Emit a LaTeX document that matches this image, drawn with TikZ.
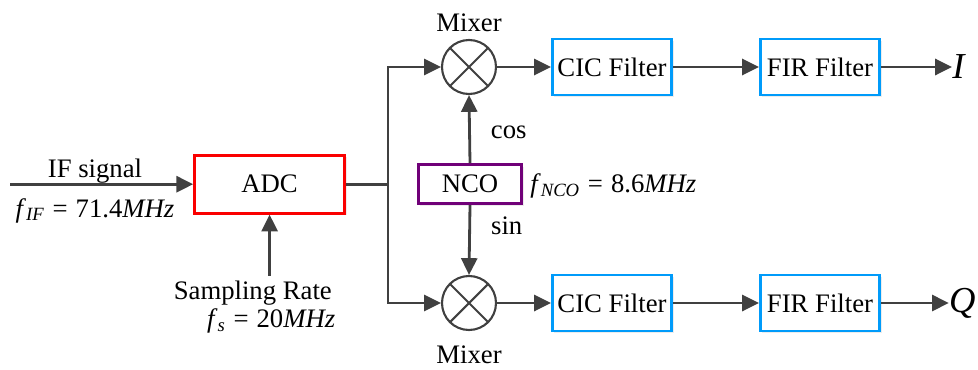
\documentclass[tikz,border=0pt]{standalone}
\usepackage{fontspec}
\setmainfont{Liberation Serif}
\usetikzlibrary{positioning,arrows.meta,shadows}

\definecolor{adcred}{RGB}{250,0,0}
\definecolor{ncopurple}{RGB}{112,0,120}
\definecolor{filtblue}{RGB}{0,155,250}
\definecolor{wiregray}{RGB}{64,64,64}

% italic formula in the text font
\newcommand{\fq}[3]{\textit{#1}\textsubscript{\textit{#2}}\hspace{0.3em}=\hspace{0.3em}#3}

\begin{document}
\begin{tikzpicture}[>={Triangle[length=0.42cm,width=0.4cm]},
  font=\fontsize{19}{22}\selectfont,
  wire/.style={draw=wiregray,line width=2pt},
  blk/.style={draw,line width=2pt,fill=white,inner sep=0pt,
    drop shadow={shadow xshift=0.05cm,shadow yshift=-0.05cm,opacity=0.15}},
  filt/.style={blk,draw=filtblue,minimum width=2.98cm,minimum height=1.4cm},
  mixer/.style={circle,draw=wiregray,line width=1.5pt,minimum size=1.35cm,inner sep=0pt,
    path picture={\draw[wiregray,line width=1.5pt]
      (path picture bounding box.north west) -- (path picture bounding box.south east)
      (path picture bounding box.north east) -- (path picture bounding box.south west);}},
  lbl/.style={inner sep=0pt},
  outlbl/.style={lbl,anchor=west,font=\fontsize{26}{28}\selectfont\itshape}]
  \useasboundingbox (0,0) rectangle (24.45,9.225);
  % ADC
  \node[blk,draw=adcred,minimum width=3.75cm,minimum height=1.45cm] (adc) at (6.74,4.62) {ADC};
  \coordinate (ifin) at (0.25,4.62);
  \coordinate (fsin) at (6.74,2.33);
  \coordinate (br) at (9.7,4.62);
  \node[lbl,anchor=base] (iflbl) at (2.375,4.78) {IF signal};
  \node[lbl,anchor=base] (iffreq) at (2.375,3.8) {\fq{f}{IF}{71.4\textit{MHz}}};
  \node[lbl,anchor=base] (fslbl) at (6.32,1.75) {Sampling Rate};
  \node[lbl,anchor=base] (fsfreq) at (6.78,1.03) {\fq{f}{s}{20\textit{MHz}}};
  % NCO
  \node[blk,draw=ncopurple,minimum width=2.58cm,minimum height=0.98cm] (nco) at (11.75,4.62) {NCO};
  \node[lbl,anchor=base west] (ncofreq) at (13.25,4.42) {\fq{f}{NCO}{8.6\textit{MHz}}};
  % mixers
  \node[mixer] (mixi) at (11.725,7.55) {};
  \node[mixer] (mixq) at (11.725,1.65) {};
  \node[lbl,anchor=base] (mixilbl) at (11.725,8.43) {Mixer};
  \node[lbl,anchor=base] (mixqlbl) at (11.725,0.13) {Mixer};
  % filters
  \node[filt] (cici) at (15.3,7.55) {CIC Filter};
  \node[filt] (firi) at (20.5,7.55) {FIR Filter};
  \node[filt] (cicq) at (15.3,1.65) {CIC Filter};
  \node[filt] (firq) at (20.5,1.65) {FIR Filter};
  \node[outlbl] (outi) at (23.8,7.55) {I};
  \node[outlbl] (outq) at (23.72,1.65) {Q};
  % connectors
  \draw[wire,->] (ifin) -- (adc.west);
  \draw[wire,->] (fsin) -- (adc.south);
  \draw[wire] (adc.east) -- (br);
  \draw[wire,->] (br) |- (mixi.west);
  \draw[wire,->] (br) |- (mixq.west);
  \draw[wire,->] (nco.north) -- (mixi.south) node[lbl,pos=0.45,right=0.5cm] {cos};
  \draw[wire,->] (nco.south) -- (mixq.north) node[lbl,pos=0.3,right=0.5cm] {sin};
  \draw[wire,->] (mixi.east) -- (cici.west);
  \draw[wire,->] (cici.east) -- (firi.west);
  \draw[wire,->] (firi.east) -- (outi.west);
  \draw[wire,->] (mixq.east) -- (cicq.west);
  \draw[wire,->] (cicq.east) -- (firq.west);
  \draw[wire,->] (firq.east) -- (outq.west);
\end{tikzpicture}
\end{document}
